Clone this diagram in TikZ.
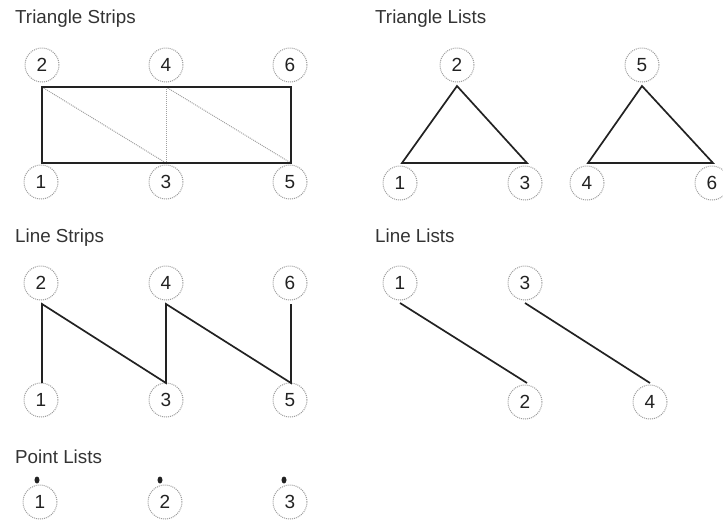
\documentclass[tikz,border=0pt]{standalone}
\usepackage{fontspec}
\setmainfont{Liberation Sans}
\usepackage{tikz}
\usetikzlibrary{positioning,shapes.geometric}
\definecolor{primInk}{HTML}{222222}
\definecolor{primTitle}{HTML}{333333}
\definecolor{primRing}{HTML}{9C9C9C}
\definecolor{primHint}{HTML}{A0A0A0}
\tikzset{
  ring/.style={
    circle,
    draw=primRing,
    densely dotted,
    line width=1pt,
    minimum size=34pt,
    inner sep=0pt,
    text=primInk,
    font=\fontsize{19}{19}\selectfont
  },
  heading/.style={
    anchor=base west,
    inner sep=0pt,
    text=primTitle,
    font=\fontsize{18.8}{19}\selectfont
  },
  edge/.style={draw=primInk, line width=1.7pt, line join=miter},
  hint/.style={draw=primHint, densely dotted, line width=1pt},
  pointdot/.style={ellipse, fill=primInk, minimum width=5pt, minimum height=7pt, inner sep=0pt}
}

\begin{document}
\begin{tikzpicture}[x=1pt, y=-1pt]
  \useasboundingbox (0,0) rectangle (723,523);

  % triangle strips
  \node[heading] (tstitle) at (15,23) {Triangle Strips};
  \coordinate (ts1) at (42,163);
  \coordinate (ts2) at (42,87);
  \coordinate (ts3) at (166,163);
  \coordinate (ts4) at (166,87);
  \coordinate (ts5) at (291,163);
  \coordinate (ts6) at (291,87);
  \node[ring] (tsl1) at (41,182) {1};
  \node[ring] (tsl2) at (42,65) {2};
  \node[ring] (tsl3) at (166,182) {3};
  \node[ring] (tsl4) at (166,65) {4};
  \node[ring] (tsl5) at (290,182) {5};
  \node[ring] (tsl6) at (290,65) {6};
  \draw[hint] (ts2) -- (ts3);
  \draw[hint] (ts4) -- (ts3);
  \draw[hint] (ts4) -- (ts5);
  \draw[edge] (ts2) -- (ts4) -- (ts6) -- (ts5) -- (ts3) -- (ts1) -- cycle;

  % triangle lists
  \node[heading] (tltitle) at (375,23) {Triangle Lists};
  \coordinate (tl1) at (402,163);
  \coordinate (tl2) at (457,86);
  \coordinate (tl3) at (527,163);
  \coordinate (tl4) at (588,163);
  \coordinate (tl5) at (642,86);
  \coordinate (tl6) at (713,163);
  \node[ring] (tll1) at (400,183) {1};
  \node[ring] (tll2) at (457,65) {2};
  \node[ring] (tll3) at (525,183) {3};
  \node[ring] (tll4) at (587,183) {4};
  \node[ring] (tll5) at (642,65) {5};
  \node[ring] (tll6) at (712,183) {6};
  \draw[edge] (tl1) -- (tl2) -- (tl3) -- cycle;
  \draw[edge] (tl4) -- (tl5) -- (tl6) -- cycle;

  % line strips
  \node[heading] (lstitle) at (15,242) {Line Strips};
  \coordinate (ls1) at (42,383);
  \coordinate (ls2) at (42,304);
  \coordinate (ls3) at (166,383);
  \coordinate (ls4) at (166,304);
  \coordinate (ls5) at (291,383);
  \coordinate (ls6) at (291,304);
  \node[ring] (lsl1) at (41,400) {1};
  \node[ring] (lsl2) at (41,283) {2};
  \node[ring] (lsl3) at (166,400) {3};
  \node[ring] (lsl4) at (166,283) {4};
  \node[ring] (lsl5) at (290,400) {5};
  \node[ring] (lsl6) at (290,283) {6};
  \draw[edge] (ls1) -- (ls2) -- (ls3) -- (ls4) -- (ls5) -- (ls6);

  % line lists
  \node[heading] (lltitle) at (375,242) {Line Lists};
  \coordinate (ll1) at (400,303);
  \coordinate (ll2) at (527,383);
  \coordinate (ll3) at (525,303);
  \coordinate (ll4) at (650,383);
  \node[ring] (lll1) at (400,283) {1};
  \node[ring] (lll2) at (525,402) {2};
  \node[ring] (lll3) at (525,283) {3};
  \node[ring] (lll4) at (650,402) {4};
  \draw[edge] (ll1) -- (ll2);
  \draw[edge] (ll3) -- (ll4);

  % point lists
  \node[heading] (pltitle) at (15,463) {Point Lists};
  \node[pointdot] (pl1) at (37,480) {};
  \node[pointdot] (pl2) at (160,480) {};
  \node[pointdot] (pl3) at (284,480) {};
  \node[ring] (pll1) at (40,502) {1};
  \node[ring] (pll2) at (165,502) {2};
  \node[ring] (pll3) at (290,502) {3};
\end{tikzpicture}
\end{document}
